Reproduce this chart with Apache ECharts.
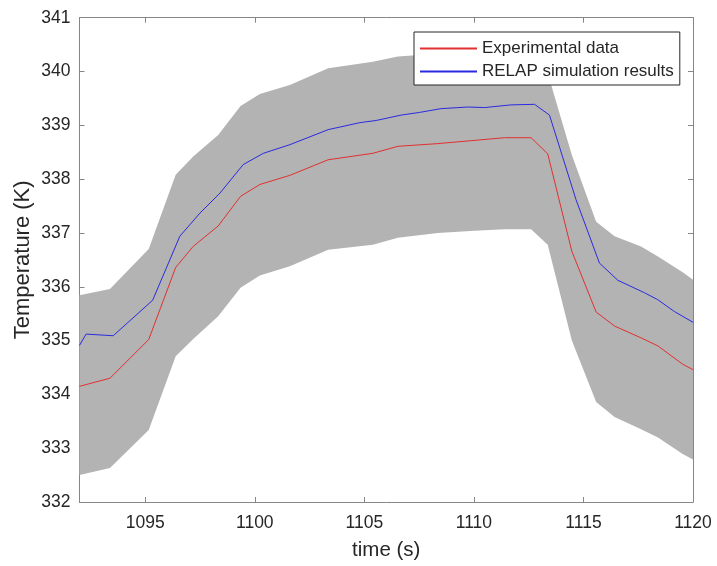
<!DOCTYPE html>
<html>
<head>
<meta charset="utf-8">
<script src="https://cdn.jsdelivr.net/npm/echarts@6/dist/echarts.min.js"></script>
<style>
html,body{margin:0;padding:0;background:#fff;}
#chart{width:717px;height:566px;}
</style>
</head>
<body>
<div id="chart"></div>
<script>
// Experimental data (red) and uncertainty band share the same time samples
const expTime = [1092.0, 1093.39, 1095.16, 1096.39, 1097.19, 1098.33, 1099.35, 1100.23, 1101.6, 1103.35, 1105.39, 1106.53, 1108.35, 1110.03, 1111.4, 1112.61, 1113.37, 1114.47, 1115.58, 1116.42, 1117.63, 1118.4, 1119.53, 1120.0];
const expTemp = [334.15, 334.30, 335.02, 336.36, 336.75, 337.13, 337.68, 337.90, 338.07, 338.36, 338.48, 338.61, 338.66, 338.72, 338.77, 338.77, 338.47, 336.66, 335.53, 335.27, 335.05, 334.90, 334.56, 334.46];
const bandUpper = [335.84, 335.96, 336.70, 338.08, 338.42, 338.82, 339.36, 339.58, 339.75, 340.06, 340.18, 340.28, 340.33, 340.36, 340.40, 340.40, 339.97, 338.45, 337.21, 336.94, 336.75, 336.56, 336.27, 336.13];
const bandLower = [332.50, 332.63, 333.34, 334.71, 335.03, 335.45, 335.98, 336.21, 336.38, 336.69, 336.78, 336.91, 337.00, 337.04, 337.07, 337.07, 336.78, 335.00, 333.86, 333.58, 333.35, 333.20, 332.89, 332.79];

// RELAP simulation results (blue)
const simTime = [1092.0, 1092.3, 1093.54, 1095.34, 1096.58, 1097.5, 1098.41, 1099.47, 1100.39, 1101.6, 1103.35, 1104.8, 1105.54, 1106.68, 1107.52, 1108.5, 1109.72, 1110.49, 1111.7, 1112.77, 1113.45, 1114.66, 1115.73, 1116.57, 1117.78, 1118.39, 1119.15, 1120.0];
const simTemp = [334.91, 335.12, 335.09, 335.75, 336.94, 337.37, 337.74, 338.27, 338.48, 338.64, 338.92, 339.05, 339.09, 339.19, 339.24, 339.31, 339.34, 339.33, 339.38, 339.39, 339.19, 337.62, 336.44, 336.12, 335.89, 335.76, 335.54, 335.34];

const xTicks = [1095, 1100, 1105, 1110, 1115, 1120];
const seriesNames = ['Experimental data', 'RELAP simulation results'];
const xName = 'time (s)';
const yName = 'Temperature (K)';

const FONT = '"Liberation Sans", Arial, Helvetica, sans-serif';
const TXT = '#262626';
const AX = '#868686';

const zip = (a, b) => a.map((v, i) => [v, b[i]]);

const chart = echarts.init(document.getElementById('chart'), null, {renderer: 'canvas'});
const grid = {left: 79.5, right: 24, top: 17.7, bottom: 63.3, containLabel: false};

const baseX = {
  type: 'value', min: 1092, max: 1120,
  axisLine: {show: true, onZero: false, lineStyle: {color: AX, width: 1}},
  axisTick: {show: true, inside: true, length: 5, customValues: xTicks, lineStyle: {color: AX}},
  splitLine: {show: false}
};
const baseY = {
  type: 'value', min: 332, max: 341, interval: 1,
  axisLine: {show: true, onZero: false, lineStyle: {color: AX, width: 1}},
  axisTick: {show: true, inside: true, length: 5, lineStyle: {color: AX}},
  splitLine: {show: false}
};

const bandData = expTime.map((t, i) => [t, bandLower[i], bandUpper[i]]);

chart.setOption({
  animation: false,
  backgroundColor: '#fff',
  textStyle: {fontFamily: FONT},
  grid: grid,
  legend: {
    data: seriesNames,
    orient: 'vertical',
    left: 414, top: 32,
    padding: [8, 6, 5, 5],
    itemWidth: 57, itemHeight: 16, itemGap: 6,
    itemStyle: {opacity: 0, borderWidth: 0},
    backgroundColor: '#fff',
    borderColor: '#262626', borderWidth: 1,
    textStyle: {fontFamily: FONT, fontSize: 17, color: TXT},
    z: 10
  },
  xAxis: [
    Object.assign({}, baseX, {
      position: 'bottom',
      name: xName, nameLocation: 'middle', nameGap: 38, nameMoveOverlap: false,
      nameTextStyle: {fontFamily: FONT, fontSize: 20.5, color: TXT},
      axisLabel: {show: true, customValues: xTicks, margin: 12, fontFamily: FONT, fontSize: 17.5, color: TXT,
        formatter: v => String(v)}
    }),
    Object.assign({}, baseX, {position: 'top', axisLabel: {show: false}})
  ],
  yAxis: [
    Object.assign({}, baseY, {
      position: 'left',
      name: yName, nameLocation: 'middle', nameGap: 46, nameMoveOverlap: false,
      nameTextStyle: {fontFamily: FONT, fontSize: 22, color: TXT},
      axisLabel: {show: true, margin: 9, fontFamily: FONT, fontSize: 17.5, color: TXT,
        formatter: v => String(v)}
    }),
    Object.assign({}, baseY, {position: 'right', axisLabel: {show: false}})
  ],
  series: [
    {
      name: 'band', type: 'custom', silent: true, z: 1,
      data: bandData,
      encode: {x: 0, y: [1, 2]},
      clip: true,
      renderItem: function (params, api) {
        if (params.dataIndex !== 0) return null;
        const pts = [];
        for (let i = 0; i < bandData.length; i++) pts.push(api.coord([bandData[i][0], bandData[i][2]]));
        for (let i = bandData.length - 1; i >= 0; i--) pts.push(api.coord([bandData[i][0], bandData[i][1]]));
        return {
          type: 'polygon',
          shape: {points: pts},
          style: {fill: '#b3b3b3', stroke: null}
        };
      }
    },
    {
      name: seriesNames[0], type: 'line', data: zip(expTime, expTemp),
      symbol: 'none', lineStyle: {color: '#e03030', width: 1}, itemStyle: {color: '#e03030'}, z: 3
    },
    {
      name: seriesNames[1], type: 'line', data: zip(simTime, simTemp),
      symbol: 'none', lineStyle: {color: '#2a2ae0', width: 1}, itemStyle: {color: '#2a2ae0'}, z: 4
    }
  ]
});
</script>
</body>
</html>
